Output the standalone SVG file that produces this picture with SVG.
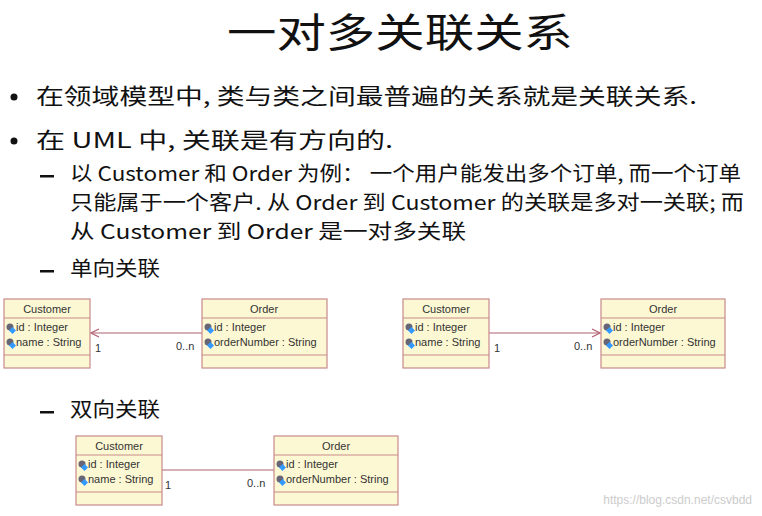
<svg xmlns="http://www.w3.org/2000/svg" width="762" height="516" viewBox="0 0 762 516">
<style>
.t{font-family:"Noto Sans CJK SC","Liberation Sans",sans-serif;fill:#111}
.b{fill:#fdf8d4;stroke:#c88a8a;stroke-width:1.2}
.h{font-family:"Liberation Sans",sans-serif;font-size:11px;fill:#333;text-anchor:middle}
.a{font-family:"Liberation Sans",sans-serif;font-size:11px;fill:#333}
.c{stroke:#b06070;stroke-width:1.2;fill:none}
</style>
<defs>
<marker id="ar" markerWidth="10" markerHeight="10" refX="9" refY="5" orient="auto" markerUnits="userSpaceOnUse"><path d="M1,1 L9,5 L1,9" fill="none" stroke="#b06070" stroke-width="1.2"/></marker>
<g id="ic"><circle cx="4" cy="-4" r="3.5" fill="#667"/><rect x="4" y="-3" width="5" height="5" fill="#39f" transform="rotate(45 6.5 -0.5)"/></g>
</defs>
<rect width="762" height="516" fill="#fff"/>
<text class="t" x="227" y="47" font-size="40" textLength="346" lengthAdjust="spacingAndGlyphs">一对多关联关系</text>
<circle cx="14" cy="97" r="3.5" fill="#111"/>
<text class="t" x="36" y="104" font-size="22" textLength="661" lengthAdjust="spacingAndGlyphs">在领域模型中, 类与类之间最普遍的关系就是关联关系.</text>
<circle cx="14" cy="141" r="3.5" fill="#111"/>
<text class="t" x="36" y="148" font-size="22" textLength="357" lengthAdjust="spacingAndGlyphs">在 UML 中, 关联是有方向的.</text>
<rect x="40" y="175" width="14" height="2.5" fill="#111"/>
<text class="t" x="70" y="181" font-size="20" textLength="671" lengthAdjust="spacingAndGlyphs">以 Customer 和 Order 为例： 一个用户能发出多个订单, 而一个订单</text>
<text class="t" x="70" y="210" font-size="20" textLength="674" lengthAdjust="spacingAndGlyphs">只能属于一个客户. 从 Order 到 Customer 的关联是多对一关联; 而</text>
<text class="t" x="70" y="239" font-size="20" textLength="396" lengthAdjust="spacingAndGlyphs">从 Customer 到 Order 是一对多关联</text>
<rect x="40" y="270" width="14" height="2.5" fill="#111"/>
<text class="t" x="70" y="276" font-size="20" textLength="90" lengthAdjust="spacingAndGlyphs">单向关联</text>
<rect x="40" y="411" width="14" height="2.5" fill="#111"/>
<text class="t" x="70" y="417" font-size="20" textLength="90" lengthAdjust="spacingAndGlyphs">双向关联</text>
<g id="connectors">
<line class="c" x1="202" y1="333" x2="91" y2="333" marker-end="url(#ar)"/>
<line class="c" x1="489" y1="333" x2="600" y2="333" marker-end="url(#ar)"/>
<line class="c" x1="162" y1="470" x2="274" y2="470"/>
<text class="a" x="95" y="352">1</text><text class="a" x="176" y="350">0..n</text>
<text class="a" x="494" y="352">1</text><text class="a" x="574" y="350">0..n</text>
<text class="a" x="165" y="489">1</text><text class="a" x="247" y="487">0..n</text>
</g>
<g id="customer1" transform="translate(4,299)">
<rect class="b" width="86" height="69"/><line class="b" x1="0" y1="19" x2="86" y2="19"/><line class="b" x1="0" y1="56" x2="86" y2="56"/>
<text class="h" x="43" y="14">Customer</text><use href="#ic" x="2" y="32"/><use href="#ic" x="2" y="47"/>
<text class="a" x="12" y="32">id : Integer</text><text class="a" x="12" y="47">name : String</text></g>
<g id="order1" transform="translate(202,299)">
<rect class="b" width="125" height="69"/><line class="b" x1="0" y1="19" x2="125" y2="19"/><line class="b" x1="0" y1="56" x2="125" y2="56"/>
<text class="h" x="62" y="14">Order</text><use href="#ic" x="2" y="32"/><use href="#ic" x="2" y="47"/>
<text class="a" x="12" y="32">id : Integer</text><text class="a" x="12" y="47">orderNumber : String</text></g>
<g id="customer2" transform="translate(403,299)">
<rect class="b" width="86" height="69"/><line class="b" x1="0" y1="19" x2="86" y2="19"/><line class="b" x1="0" y1="56" x2="86" y2="56"/>
<text class="h" x="43" y="14">Customer</text><use href="#ic" x="2" y="32"/><use href="#ic" x="2" y="47"/>
<text class="a" x="12" y="32">id : Integer</text><text class="a" x="12" y="47">name : String</text></g>
<g id="order2" transform="translate(601,299)">
<rect class="b" width="124" height="69"/><line class="b" x1="0" y1="19" x2="124" y2="19"/><line class="b" x1="0" y1="56" x2="124" y2="56"/>
<text class="h" x="62" y="14">Order</text><use href="#ic" x="2" y="32"/><use href="#ic" x="2" y="47"/>
<text class="a" x="12" y="32">id : Integer</text><text class="a" x="12" y="47">orderNumber : String</text></g>
<g id="customer3" transform="translate(76,436)">
<rect class="b" width="86" height="69"/><line class="b" x1="0" y1="19" x2="86" y2="19"/><line class="b" x1="0" y1="56" x2="86" y2="56"/>
<text class="h" x="43" y="14">Customer</text><use href="#ic" x="2" y="32"/><use href="#ic" x="2" y="47"/>
<text class="a" x="12" y="32">id : Integer</text><text class="a" x="12" y="47">name : String</text></g>
<g id="order3" transform="translate(274,436)">
<rect class="b" width="124" height="69"/><line class="b" x1="0" y1="19" x2="124" y2="19"/><line class="b" x1="0" y1="56" x2="124" y2="56"/>
<text class="h" x="62" y="14">Order</text><use href="#ic" x="2" y="32"/><use href="#ic" x="2" y="47"/>
<text class="a" x="12" y="32">id : Integer</text><text class="a" x="12" y="47">orderNumber : String</text></g>
<text x="752" y="504" font-family="Liberation Sans,sans-serif" font-size="12" fill="#ccc" text-anchor="end">https://blog.csdn.net/csvbdd</text>
</svg>
